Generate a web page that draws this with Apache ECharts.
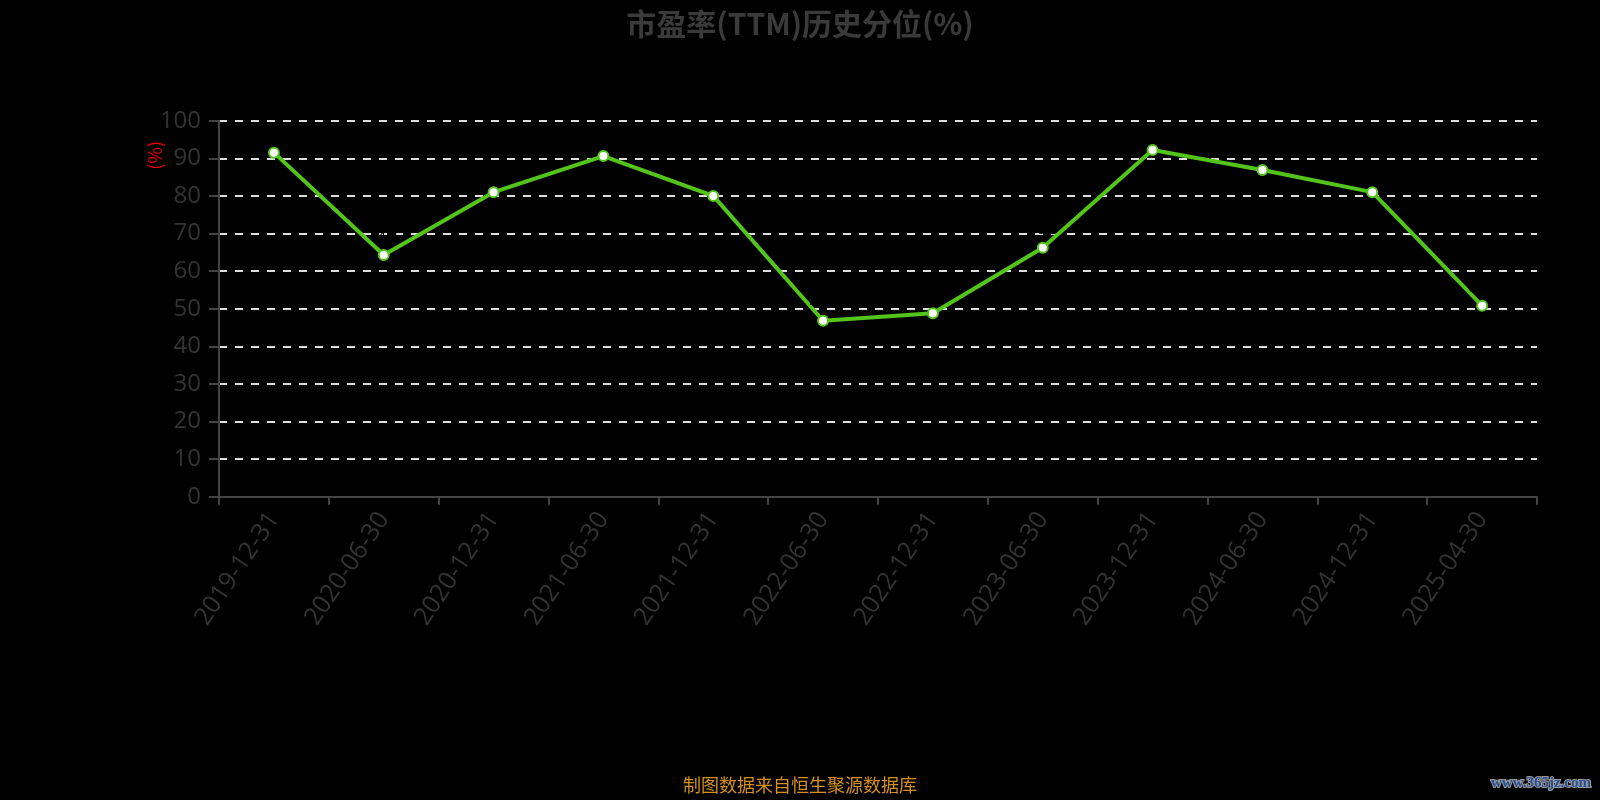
<!DOCTYPE html>
<html><head><meta charset="utf-8">
<script src="https://cdn.jsdelivr.net/npm/echarts@6/dist/echarts.min.js"></script>
<style>html,body{margin:0;padding:0;background:#000;}#c{width:1600px;height:800px;}</style>
</head><body><div id="c"></div>
<script>
const categories = ['2019-12-31','2020-06-30','2020-12-31','2021-06-30','2021-12-31','2022-06-30','2022-12-31','2023-06-30','2023-12-31','2024-06-30','2024-12-31','2025-04-30'];
const values = [91.5, 64.3, 81.0, 90.6, 80.0, 46.8, 48.8, 66.2, 92.2, 86.9, 81.0, 50.8];
const yTicks = [0, 100, 10];
const titleText = '市盈率(TTM)历史分位(%)';
const sourceText = '制图数据来自恒生聚源数据库';
const watermark = 'www.365jz.com';

const chart = echarts.init(document.getElementById('c'));
chart.setOption({
  backgroundColor: '#000',
  animation: false,
  title: {
    text: titleText, left: 'center', top: 4,
    textStyle: {color: '#3a3a3a', fontSize: 30, fontWeight: 'bold', fontFamily: 'Noto Sans CJK SC'}
  },
  grid: {left: 219, right: 63, top: 120.7, bottom: 303.3, containLabel: false},
  xAxis: {
    type: 'category', data: categories, boundaryGap: true,
    axisLine: {lineStyle: {color: '#444', width: 2}},
    axisTick: {show: true, length: 8, lineStyle: {color: '#444', width: 2}},
    axisLabel: {color: '#333', fontSize: 25, rotate: 56, margin: 18, fontFamily: 'Open Sans', interval: 0},
    splitLine: {show: false}
  },
  yAxis: {
    type: 'value', min: yTicks[0], max: yTicks[1], interval: yTicks[2],
    axisLine: {show: true, lineStyle: {color: '#444', width: 2}},
    axisTick: {show: true, length: 10, lineStyle: {color: '#444', width: 2}},
    axisLabel: {color: '#333', fontSize: 24, margin: 18, fontFamily: 'Open Sans'},
    splitLine: {show: true, lineStyle: {color: '#ddd', type: [8, 8], width: 2}}
  },
  graphic: [
    {type: 'text', left: 146, top: 141, rotation: Math.PI / 2,
     style: {text: '(%)', fill: '#e00', fontSize: 18, fontFamily: 'Noto Sans CJK SC'}},
    {type: 'text', left: 'center', top: 776,
     style: {text: sourceText, fill: '#d4901a', fontSize: 18, fontFamily: 'Noto Sans CJK SC'}},
    {type: 'text', right: 8, top: 775,
     style: {text: watermark, fill: '#2b4f96', fontSize: 15, fontWeight: 'bold', fontFamily: 'Liberation Serif', stroke: '#999', lineWidth: 2}}
  ],
  series: [{
    type: 'line', data: values,
    symbol: 'circle', symbolSize: 10,
    itemStyle: {color: '#fff', borderColor: '#52c41a', borderWidth: 2},
    lineStyle: {color: '#52c41a', width: 4},
    label: {show: true, position: 'top', color: '#000', fontSize: 14}
  }]
});
</script></body></html>
